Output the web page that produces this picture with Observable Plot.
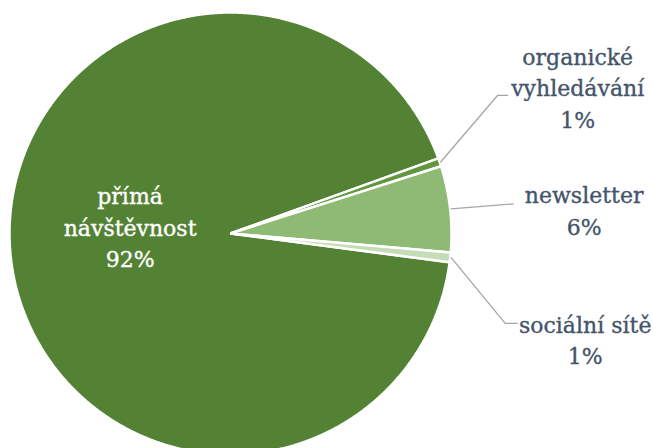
<!DOCTYPE html>
<html><head><meta charset="utf-8">
<script src="https://cdn.jsdelivr.net/npm/d3@7"></script>
<script src="https://cdn.jsdelivr.net/npm/@observablehq/plot@0.6"></script>
<style>body{margin:0;background:#fff}</style>
</head><body><div id="chart"></div>
<script>
// ---- data ----
const categories = ["přímá návštěvnost", "organické vyhledávání", "newsletter", "sociální sítě"];
const labelNames = ["přímá\nnávštěvnost", "organické\nvyhledávání", "newsletter", "sociální sítě"];
const shares = [92.4, 0.6, 6.3, 0.7];
const sliceColors = ["#548235", "#62963f", "#8fba75", "#c6dcb6"];

// ---- layout / style ----
const W = 653, H = 448;
const CX = 230, CY = 233, R = 221;
const START = 97.48 * Math.PI / 180;
const textColor = "#44546A";
const font = "DejaVu Serif";
// pixel offsets (y down) from each slice's outer mid point
const labelLayout = {
  "organické vyhledávání": {bend: [58, -67], end: [68, -67], text: [138, -76]},
  "newsletter": {bend: null, end: [63, -5], text: [134, 0]},
  "sociální sítě": {bend: [55, 66], end: [67, 66], text: [135, 81]}
};
const insideLayout = {radius: 100, text: [-1, -19]};

const data = categories.map((c, i) => ({
  category: c, share: shares[i],
  label: labelNames[i] + "\n" + Math.round(shares[i]) + "%"
}));
const pie = d3.pie().sort(null).startAngle(START).endAngle(START + 2 * Math.PI).value(d => d.share);
const arcs = pie(data);
const pt = (a, r) => [r * Math.sin(a), r * Math.cos(a)]; // y up

// slice polygons
const poly = [];
for (const a of arcs) {
  const n = Math.max(2, Math.ceil((a.endAngle - a.startAngle) / (Math.PI / 720)));
  poly.push({category: a.data.category, x: 0, y: 0});
  for (let k = 0; k <= n; k++) {
    const t = a.startAngle + (a.endAngle - a.startAngle) * k / n;
    const [x, y] = pt(t, R);
    poly.push({category: a.data.category, x, y});
  }
}

// leader lines and labels
const leaders = [];
const outerLabels = [];
const innerLabels = [];
for (const a of arcs) {
  const mid = (a.startAngle + a.endAngle) / 2;
  const c = a.data.category;
  const L = labelLayout[c];
  if (L) {
    const [ox, oy] = pt(mid, R);
    const [sx, sy] = pt(mid, R + 1);
    leaders.push({category: c, x: sx, y: sy});
    if (L.bend) leaders.push({category: c, x: ox + L.bend[0], y: oy - L.bend[1]});
    leaders.push({category: c, x: ox + L.end[0], y: oy - L.end[1]});
    outerLabels.push({x: ox + L.text[0], y: oy - L.text[1], label: a.data.label});
  } else {
    const [ix, iy] = pt(mid, insideLayout.radius);
    innerLabels.push({x: ix + insideLayout.text[0], y: iy - insideLayout.text[1], label: a.data.label});
  }
}

const chart = Plot.plot({
  width: W, height: H,
  margin: 0,
  x: {domain: [-CX, W - CX], axis: null},
  y: {domain: [-(H - CY), CY], axis: null},
  color: {domain: categories, range: sliceColors},
  style: {background: "white", fontFamily: font},
  marks: [
    Plot.line(poly, {x: "x", y: "y", z: "category", fill: "category", stroke: "white", strokeWidth: 2.5, strokeLinejoin: "miter", curve: "linear-closed"}),
    Plot.line(leaders, {x: "x", y: "y", z: "category", stroke: "#a6a6a6", strokeWidth: 1.3}),
    Plot.text(outerLabels, {x: "x", y: "y", text: "label", fill: textColor, stroke: textColor, strokeWidth: 0.35, fontSize: 22, lineHeight: 1.42, fontFamily: font}),
    Plot.text(innerLabels, {x: "x", y: "y", text: "label", fill: "white", stroke: "white", strokeWidth: 0.35, fontSize: 22, lineHeight: 1.45, fontFamily: font})
  ]
});
document.getElementById("chart").append(chart);
</script>
</body></html>
